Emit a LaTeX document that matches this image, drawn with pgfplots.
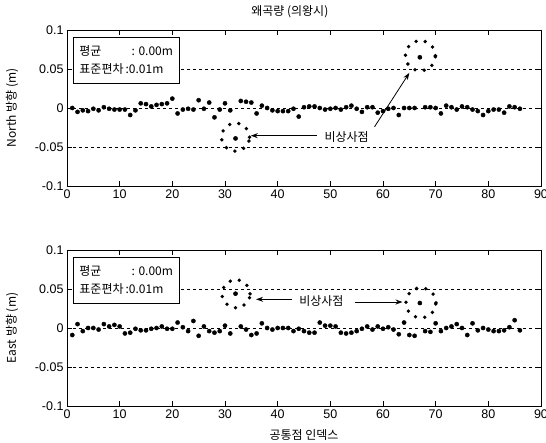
\documentclass[border=0pt]{standalone}
\usepackage{fontspec}
\setmainfont{Liberation Sans}
\newfontfamily\kr{Noto Sans CJK KR}
\usepackage{pgfplots}
\usepackage{pgfplotstable}
\pgfplotsset{compat=1.18}
\usetikzlibrary{arrows.meta}

\pgfplotstableread{
x y
1 0.000
2 -0.005
3 -0.003
4 -0.004
5 -0.001
6 -0.003
7 0.001
8 -0.001
9 -0.002
10 -0.002
11 -0.002
12 -0.009
13 -0.003
14 0.006
15 0.005
16 0.002
17 0.004
18 0.005
19 0.006
20 0.012
21 -0.007
22 -0.002
23 -0.001
24 -0.002
25 0.010
26 -0.001
27 0.007
28 -0.012
29 -0.002
30 0.006
31 -0.003
32 -0.039
33 0.009
34 0.008
35 0.007
36 -0.007
37 0.003
38 0.000
39 -0.003
40 -0.004
41 -0.004
42 -0.004
43 -0.001
44 -0.011
45 0.001
46 0.002
47 0.002
48 0.000
49 -0.002
50 -0.001
51 0.000
52 -0.002
53 0.001
54 0.003
55 -0.001
56 -0.005
57 0.001
58 0.001
59 -0.006
60 -0.004
61 -0.001
62 0.000
63 -0.009
64 0.000
65 0.000
66 0.000
67 0.065
68 0.001
69 0.001
70 0.000
71 -0.007
72 0.003
73 0.001
74 -0.002
75 0.002
76 0.001
77 -0.002
78 -0.004
79 -0.009
80 -0.004
81 -0.002
82 -0.002
83 -0.006
84 0.002
85 0.001
86 -0.001
}\north

\pgfplotstableread{
x y
1 -0.009
2 0.005
3 -0.004
4 0.000
5 0.000
6 -0.002
7 0.005
8 0.002
9 0.004
10 0.002
11 -0.007
12 -0.006
13 -0.001
14 -0.003
15 -0.003
16 -0.001
17 0.000
18 0.002
19 -0.001
20 -0.001
21 0.007
22 0.001
23 -0.004
24 0.009
25 -0.010
26 0.002
27 -0.004
28 -0.006
29 -0.004
30 0.003
31 -0.007
32 0.044
33 0.002
34 -0.002
35 -0.009
36 -0.007
37 0.006
38 0.000
39 -0.002
40 0.000
41 0.000
42 0.000
43 -0.004
44 -0.001
45 -0.004
46 -0.006
47 -0.006
48 0.007
49 0.003
50 0.003
51 0.002
52 -0.006
53 -0.007
54 -0.006
55 -0.004
56 -0.001
57 0.002
58 -0.002
59 0.002
60 -0.001
61 0.001
62 -0.002
63 -0.008
64 0.007
65 -0.009
66 -0.010
67 0.032
68 -0.004
69 -0.005
70 0.006
71 -0.004
72 0.000
73 0.002
74 0.005
75 0.000
76 -0.009
77 0.006
78 -0.003
79 0.000
80 -0.002
81 -0.004
82 -0.004
83 -0.003
84 0.001
85 0.010
86 -0.003
}\east

\pgfplotsset{
  myax/.style={
    width=474pt, height=156pt, scale only axis,
    xmin=0, xmax=90, ymin=-0.1, ymax=0.1,
    xtick={0,10,...,90},
    ytick={-0.1,-0.05,0,0.05,0.1},
    yticklabels={-0.1,-0.05,0,0.05,0.1},
    tick align=inside, major tick length=5pt,
    ymajorgrids,
    grid style={black, line width=0.6pt, dash pattern=on 3pt off 3pt},
    axis line style={line width=0.9pt},
    tick style={black, line width=0.9pt},
    tick label style={font=\fontsize{12.5}{14}\selectfont},
    /pgf/number format/assume math mode=true,
    label style={font=\kr\fontsize{12}{14}\selectfont},
    ylabel style={at={(axis description cs:-0.116,0.5)}, anchor=center},
  },
  dots/.style={only marks, mark=*, mark size=2.1pt, black},
}
\tikzset{
  circ/.style={line width=3.8pt, line cap=round, dash pattern=on 0pt off 9.3pt},
  arr/.style={-{Stealth[length=7pt,width=5pt]}, line width=0.8pt},
  boxtxt/.style={draw, line width=0.9pt, fill=white, anchor=north west,
    xshift=6pt, yshift=-7pt, inner xsep=6pt, inner ysep=5pt,
    font=\kr\fontsize{12}{18}\selectfont},
}

\begin{document}
\begin{tikzpicture}
\useasboundingbox (-67pt,-257pt) rectangle (479pt,186pt);
\begin{axis}[myax, at={(0,0)}, anchor=south west,
  ylabel={North 방향 (m)},
]
\addplot[dots] table[x=x,y=y] {\north};
\draw[circ] (axis cs:32,-0.0374) circle[radius=14pt];
\draw[circ] (axis cs:67.1,0.067) circle[radius=15pt];
\node[font=\kr\fontsize{12}{14}\selectfont] at (axis cs:53.1,-0.037) {비상사점};
\draw[arr] (axis cs:47.4,-0.0355) -- (axis cs:34.9,-0.0355);
\draw[arr] (axis cs:58.4,-0.024) -- (axis cs:65.0,0.045);
\node[boxtxt] at (rel axis cs:0,1) {\begin{tabular}{@{}l@{}l@{}}평균 & \ \ \ : 0.00m\\ 표준편차 & \,:0.01m\end{tabular}};
\end{axis}
\node[font=\kr\fontsize{12}{14}\selectfont, anchor=center] at (222.8pt,174pt) {왜곡량 (의왕시)};
\begin{axis}[myax, at={(0,-220pt)}, anchor=south west,
  ylabel={East 방향 (m)},
  xlabel={공통점 인덱스},
  xlabel style={at={(axis description cs:0.5,-0.186)}, anchor=center},
]
\addplot[dots] table[x=x,y=y] {\east};
\draw[circ] (axis cs:32.1,0.0438) circle[radius=14pt];
\draw[circ] (axis cs:67.2,0.0323) circle[radius=15pt];
\node[font=\kr\fontsize{12}{14}\selectfont] at (axis cs:48.3,0.0345) {비상사점};
\draw[arr] (axis cs:42.7,0.0368) -- (axis cs:35.9,0.0368);
\draw[arr] (axis cs:54.6,0.0333) -- (axis cs:63.7,0.0333);
\node[boxtxt] at (rel axis cs:0,1) {\begin{tabular}{@{}l@{}l@{}}평균 & \ \ \ : 0.00m\\ 표준편차 & \,:0.01m\end{tabular}};
\end{axis}
\end{tikzpicture}
\end{document}
